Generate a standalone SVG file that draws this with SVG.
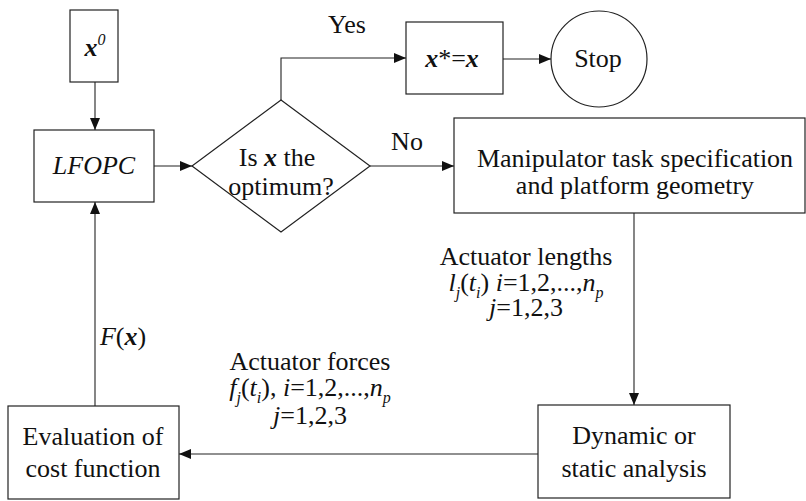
<svg xmlns="http://www.w3.org/2000/svg" width="806" height="501" viewBox="0 0 806 501">
<style>
.box{fill:#fff;stroke:#222;stroke-width:1.2}
.t{font-family:"Liberation Serif","DejaVu Serif","Times New Roman",serif;font-size:26px;fill:#111;text-anchor:middle}
.i{font-style:italic}
.bi{font-style:italic;font-weight:bold}
.s{font-size:16px;font-style:italic}
.conn path{fill:none;stroke:#222;stroke-width:1.1;marker-end:url(#ah)}
</style>
<defs>
<marker id="ah" markerUnits="userSpaceOnUse" markerWidth="13" markerHeight="11" refX="12" refY="5" orient="auto">
<path d="M0,0 L12,5 L0,10 z" fill="#111"/>
</marker>
</defs>
<rect width="806" height="501" fill="#fff"/>
<g class="conn">
<path d="M95,82 V130"/>
<path d="M154,166 H192"/>
<path d="M281,100 V58 H406"/>
<path d="M503,59 H551"/>
<path d="M370,166 H454"/>
<path d="M634,213 V405"/>
<path d="M538,454 H179"/>
<path d="M95,406 V202"/>
</g>
<g id="x0">
<rect class="box" x="70" y="10" width="48" height="72"/>
<text class="t" x="95" y="56" font-family="Liberation Serif, serif"><tspan class="bi">x</tspan><tspan class="s" dy="-11">0</tspan></text>
</g>
<g id="lfopc">
<rect class="box" x="34" y="130" width="120" height="72"/>
<text class="t i" x="94" y="174" font-family="Liberation Serif, serif">LFOPC</text>
</g>
<g id="decision">
<path class="box" d="M281,100 L370,166 L281,232 L192,166 Z"/>
<text class="t" x="277" y="166">Is <tspan class="bi">x</tspan> the</text>
<text class="t" x="281" y="195">optimum?</text>
</g>
<g id="xstar">
<rect class="box" x="406" y="22" width="97" height="72"/>
<text class="t" x="452" y="67"><tspan class="bi">x</tspan>*=<tspan class="bi">x</tspan></text>
</g>
<g id="stop">
<circle class="box" cx="599" cy="59" r="48"/>
<text class="t" x="598" y="67">Stop</text>
</g>
<g id="manip">
<rect class="box" x="454" y="118" width="351" height="95"/>
<text class="t" x="635" y="167">Manipulator task specification</text>
<text class="t" x="635" y="194">and platform geometry</text>
</g>
<g id="dynamic">
<rect class="box" x="538" y="405" width="192" height="93"/>
<text class="t" x="634" y="444">Dynamic or</text>
<text class="t" x="634" y="477">static analysis</text>
</g>
<g id="eval">
<rect class="box" x="8" y="406" width="171" height="93"/>
<text class="t" x="93" y="445">Evaluation of</text>
<text class="t" x="93" y="477">cost function</text>
</g>
<g id="labels">
<text class="t" x="347" y="33">Yes</text>
<text class="t" x="407" y="150">No</text>
<text class="t" x="123" y="345"><tspan class="i">F</tspan>(<tspan class="bi">x</tspan>)</text>
<text class="t" x="526" y="265">Actuator lengths</text>
<text class="t" x="526" y="291"><tspan class="i">l</tspan><tspan class="s" dy="7">j</tspan><tspan dy="-7">(</tspan><tspan class="i">t</tspan><tspan class="s" dy="7">i</tspan><tspan dy="-7">) </tspan><tspan class="i">i</tspan>=1,2,...,<tspan class="i">n</tspan><tspan class="s" dy="7">p</tspan></text>
<text class="t" x="526" y="316"><tspan class="i">j</tspan>=1,2,3</text>
<text class="t" x="310" y="370">Actuator forces</text>
<text class="t" x="310" y="396"><tspan class="i">f</tspan><tspan class="s" dy="7">j</tspan><tspan dy="-7">(</tspan><tspan class="i">t</tspan><tspan class="s" dy="7">i</tspan><tspan dy="-7">), </tspan><tspan class="i">i</tspan>=1,2,...,<tspan class="i">n</tspan><tspan class="s" dy="7">p</tspan></text>
<text class="t" x="310" y="424"><tspan class="i">j</tspan>=1,2,3</text>
</g>
</svg>
